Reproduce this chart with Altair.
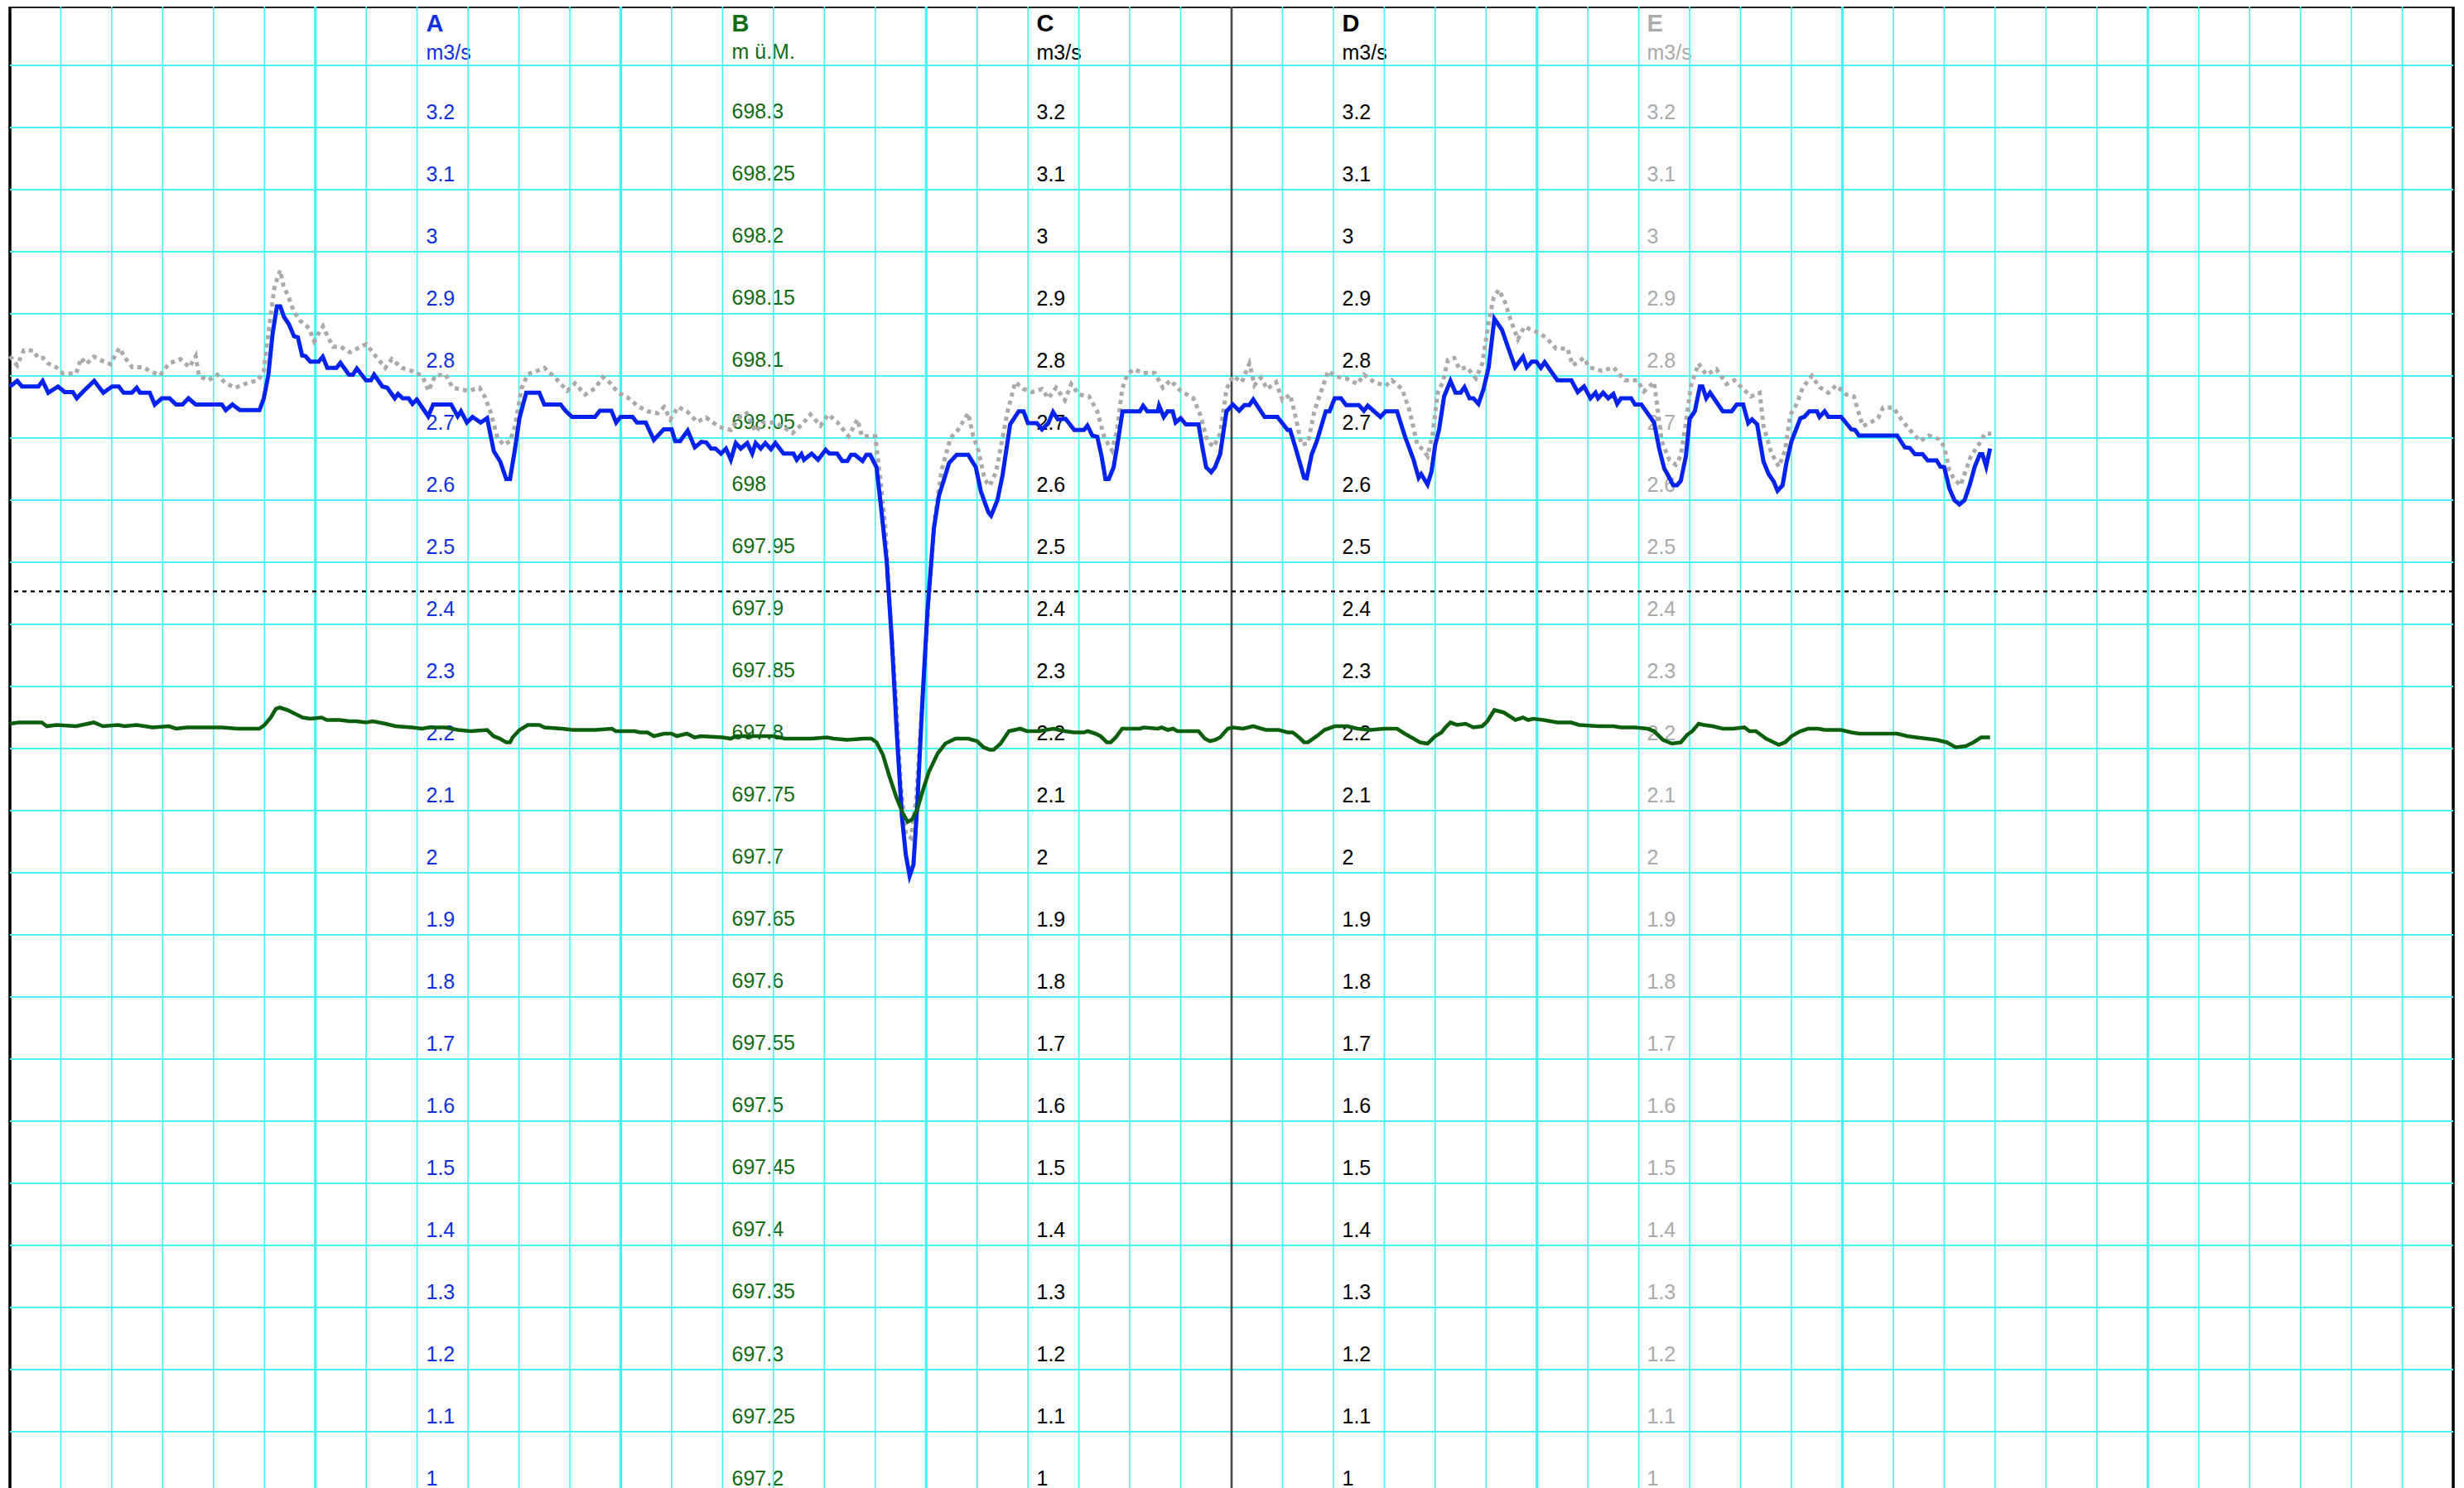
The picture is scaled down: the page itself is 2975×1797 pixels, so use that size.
import altair as alt
import pandas as pd

# ---------------- data (hours since start, value) ----------------
# A: discharge, m3/s (blue)
A_pts = [
    (0.0, 2.783), (0.57, 2.792), (0.95, 2.783), (2.24, 2.783), (2.57, 2.792), (3.01, 2.773), (3.78, 2.783),
    (4.30, 2.774), (4.94, 2.774), (5.25, 2.764), (5.71, 2.774), (6.62, 2.792), (7.34, 2.773), (8.03, 2.783),
    (8.55, 2.783), (8.93, 2.773), (9.58, 2.773), (9.96, 2.781), (10.22, 2.773), (10.99, 2.773), (11.38, 2.754),
    (11.94, 2.764), (12.54, 2.764), (13.05, 2.754), (13.56, 2.754), (14.03, 2.764), (14.59, 2.754), (16.65, 2.754),
    (16.96, 2.745), (17.48, 2.754), (18.07, 2.745), (19.61, 2.745), (19.95, 2.764), (20.31, 2.802), (20.64, 2.868),
    (20.98, 2.912), (21.24, 2.912), (21.54, 2.895), (21.93, 2.883), (22.32, 2.864), (22.63, 2.862), (22.96, 2.833),
    (23.22, 2.832), (23.60, 2.823), (24.25, 2.823), (24.58, 2.831), (24.94, 2.813), (25.66, 2.813), (25.97, 2.821),
    (26.64, 2.802), (26.95, 2.802), (27.26, 2.812), (27.98, 2.793), (28.37, 2.793), (28.62, 2.802), (29.27, 2.783),
    (29.65, 2.781), (30.24, 2.764), (30.50, 2.771), (30.86, 2.764), (31.33, 2.764), (31.63, 2.755), (31.97, 2.762),
    (32.87, 2.735), (33.26, 2.754), (34.67, 2.754), (35.19, 2.735), (35.44, 2.743), (35.91, 2.725), (36.35, 2.734),
    (36.99, 2.725), (37.50, 2.732), (38.02, 2.679), (38.53, 2.662), (39.0, 2.634), (39.3, 2.634), (39.67, 2.68),
    (40.05, 2.733), (40.57, 2.773), (41.6, 2.773), (41.99, 2.754), (43.27, 2.754), (43.66, 2.744), (44.17, 2.734),
    (45.97, 2.734), (46.36, 2.744), (47.26, 2.744), (47.64, 2.725), (47.98, 2.734), (48.93, 2.734), (49.27, 2.725),
    (49.96, 2.725), (50.6, 2.697), (51.38, 2.714), (52.0, 2.714), (52.28, 2.695), (52.66, 2.695), (53.26, 2.712),
    (53.82, 2.685), (54.34, 2.694), (54.72, 2.693), (55.1, 2.683), (55.44, 2.683), (55.88, 2.675), (56.27, 2.683),
    (56.65, 2.665), (57.04, 2.692), (57.43, 2.683), (57.94, 2.692), (58.33, 2.675), (58.6, 2.692), (59.0, 2.683),
    (59.36, 2.692), (59.8, 2.682), (60.15, 2.692), (60.79, 2.675), (61.57, 2.675), (61.83, 2.665), (62.2, 2.674),
    (62.4, 2.665), (63.0, 2.675), (63.5, 2.665), (64.1, 2.681), (64.4, 2.675), (65.0, 2.675), (65.4, 2.663),
    (65.8, 2.663), (66.1, 2.673), (66.4, 2.673), (67.0, 2.663), (67.3, 2.673), (67.6, 2.673), (68.1, 2.653),
    (68.5, 2.580), (68.9, 2.501), (69.3, 2.374), (69.7, 2.222), (70.1, 2.089), (70.4, 2.029), (70.7, 1.995),
    (71.0, 2.013), (71.3, 2.109), (71.7, 2.275), (72.1, 2.421), (72.6, 2.554), (73.0, 2.607), (73.4, 2.633),
    (73.8, 2.66), (74.4, 2.673), (75.3, 2.673), (75.9, 2.653), (76.3, 2.614), (76.9, 2.580), (77.1, 2.575),
    (77.6, 2.60), (78.0, 2.64), (78.6, 2.722), (79.27, 2.743), (79.65, 2.743), (80.0, 2.724), (80.7, 2.724),
    (81.1, 2.714), (81.6, 2.724), (81.97, 2.742), (82.35, 2.730), (82.95, 2.731), (83.64, 2.713), (84.4, 2.713),
    (84.67, 2.720), (85.06, 2.704), (85.45, 2.702), (85.78, 2.671), (86.09, 2.634), (86.35, 2.634), (86.73, 2.653),
    (87.07, 2.695), (87.43, 2.743), (88.79, 2.743), (89.05, 2.752), (89.38, 2.743), (90.2, 2.743), (90.3, 2.752),
    (90.67, 2.734), (90.97, 2.743), (91.37, 2.743), (91.6, 2.725), (92.0, 2.732), (92.4, 2.722), (93.4, 2.722),
    (93.7, 2.686), (94.0, 2.653), (94.4, 2.645), (94.7, 2.653), (95.1, 2.674), (95.6, 2.743), (96.1, 2.754),
    (96.6, 2.744), (97.0, 2.753), (97.4, 2.753), (97.7, 2.762), (98.6, 2.734), (99.6, 2.734), (100.4, 2.713),
    (100.6, 2.713), (101.0, 2.686), (101.7, 2.636), (101.9, 2.635), (102.3, 2.674), (102.7, 2.695), (103.4, 2.743),
    (103.7, 2.743), (104.1, 2.764), (104.6, 2.764), (105.0, 2.753), (106.0, 2.753), (106.4, 2.744), (106.7, 2.752),
    (107.2, 2.743), (107.7, 2.734), (108.1, 2.743), (109.0, 2.743), (109.6, 2.704), (110.3, 2.665), (110.7, 2.636),
    (110.9, 2.642), (111.4, 2.625), (111.7, 2.645), (112.0, 2.689), (112.3, 2.713), (112.7, 2.767), (113.2, 2.792),
    (113.6, 2.773), (114.0, 2.773), (114.3, 2.782), (114.7, 2.764), (115.0, 2.764), (115.4, 2.755), (115.8, 2.779),
    (116.2, 2.814), (116.65, 2.892), (117.25, 2.874), (117.76, 2.844), (118.28, 2.814), (118.9, 2.831), (119.2, 2.814),
    (119.6, 2.823), (119.95, 2.823), (120.3, 2.813), (120.6, 2.822), (121.6, 2.793), (122.7, 2.793), (123.2, 2.774),
    (123.7, 2.783), (124.2, 2.764), (124.6, 2.773), (124.8, 2.764), (125.2, 2.773), (125.6, 2.764), (126.0, 2.771),
    (126.3, 2.755), (126.6, 2.764), (127.4, 2.764), (127.7, 2.754), (128.2, 2.754), (129.2, 2.725), (129.6, 2.683),
    (130.0, 2.651), (130.3, 2.640), (130.7, 2.624), (131.0, 2.624), (131.3, 2.631), (131.7, 2.671), (132.0, 2.731),
    (132.4, 2.743), (132.8, 2.783), (133.0, 2.783), (133.3, 2.764), (133.6, 2.773), (134.6, 2.743), (135.3, 2.743),
    (135.7, 2.754), (136.2, 2.754), (136.6, 2.724), (136.9, 2.730), (137.3, 2.722), (137.8, 2.662), (138.2, 2.642),
    (138.6, 2.630), (138.9, 2.615), (139.3, 2.624), (139.6, 2.660), (140.0, 2.695), (140.7, 2.732), (141.0, 2.734),
    (141.4, 2.743), (142.0, 2.743), (142.2, 2.734), (142.6, 2.743), (142.9, 2.734), (143.9, 2.734), (144.7, 2.714),
    (145.0, 2.713), (145.3, 2.704), (148.3, 2.704), (148.9, 2.685), (149.3, 2.684), (149.7, 2.674), (150.3, 2.674),
    (150.7, 2.664), (151.4, 2.664), (151.7, 2.654), (152.0, 2.653), (152.4, 2.619), (152.8, 2.60), (153.2, 2.593),
    (153.6, 2.60), (154.0, 2.624), (154.4, 2.654), (154.8, 2.674), (155.0, 2.674), (155.3, 2.654), (155.6, 2.683),
]

# E: discharge, m3/s (grey dotted)
E_pts = [
    (0.0, 2.832), (0.57, 2.817), (1.08, 2.841), (1.85, 2.841), (2.2, 2.829), (2.6, 2.829), (3.0, 2.820),
    (3.65, 2.814), (4.17, 2.804), (5.2, 2.804), (5.6, 2.829), (6.0, 2.819), (6.6, 2.831), (7.4, 2.823),
    (7.9, 2.819), (8.6, 2.845), (9.05, 2.829), (9.6, 2.814), (10.5, 2.814), (11.0, 2.808), (11.8, 2.801),
    (12.5, 2.82), (13.4, 2.827), (14.1, 2.814), (14.6, 2.832), (14.85, 2.80), (15.6, 2.793), (16.3, 2.802),
    (16.9, 2.789), (17.7, 2.781), (18.7, 2.789), (19.5, 2.793), (19.95, 2.808), (20.3, 2.868), (20.8, 2.945),
    (21.24, 2.970), (21.5, 2.945), (21.9, 2.927), (22.3, 2.904), (22.8, 2.889), (23.5, 2.877), (23.9, 2.856),
    (24.6, 2.88), (25.0, 2.862), (25.4, 2.847), (26.0, 2.847), (26.7, 2.838), (27.2, 2.843), (28.0, 2.851),
    (28.5, 2.838), (29.5, 2.813), (30.0, 2.827), (30.8, 2.813), (31.6, 2.808), (32.4, 2.80), (32.9, 2.776),
    (33.4, 2.80), (34.2, 2.803), (34.8, 2.781), (36.0, 2.776), (36.9, 2.781), (37.3, 2.767), (37.8, 2.74),
    (38.3, 2.701), (38.8, 2.689), (39.3, 2.695), (39.7, 2.72), (40.2, 2.78), (40.7, 2.803), (41.3, 2.807),
    (42.0, 2.813), (42.75, 2.799), (43.8, 2.776), (44.4, 2.788), (45.2, 2.77), (45.97, 2.78), (46.6, 2.798),
    (47.1, 2.79), (47.8, 2.773), (48.5, 2.766), (49.3, 2.752), (50.1, 2.743), (50.9, 2.74), (51.4, 2.75),
    (51.9, 2.73), (52.5, 2.75), (53.2, 2.743), (54.0, 2.726), (54.7, 2.733), (55.75, 2.718), (56.65, 2.713),
    (57.3, 2.733), (57.9, 2.74), (58.6, 2.71), (59.2, 2.725), (60.1, 2.725), (60.9, 2.716), (61.5, 2.708),
    (62.3, 2.723), (62.9, 2.738), (63.7, 2.72), (64.3, 2.738), (65.0, 2.726), (65.9, 2.703), (66.6, 2.73),
    (66.95, 2.703), (68.0, 2.703), (68.4, 2.633), (68.8, 2.554), (69.1, 2.441), (69.65, 2.275), (70.0, 2.142),
    (70.4, 2.062), (70.8, 2.056), (71.2, 2.116), (71.7, 2.275), (72.2, 2.441), (72.7, 2.574), (73.2, 2.647),
    (73.9, 2.70), (74.5, 2.713), (75.3, 2.74), (75.7, 2.703), (76.1, 2.68), (76.6, 2.633), (77.0, 2.623),
    (77.5, 2.646), (78.0, 2.70), (78.4, 2.743), (79.0, 2.79), (79.65, 2.779), (80.3, 2.774), (81.1, 2.779),
    (81.6, 2.764), (82.2, 2.781), (82.9, 2.761), (83.4, 2.787), (84.0, 2.77), (84.8, 2.767), (85.45, 2.743),
    (86.0, 2.701), (86.6, 2.68), (87.0, 2.713), (87.4, 2.779), (87.8, 2.802), (88.3, 2.811), (89.0, 2.805),
    (89.95, 2.805), (90.6, 2.781), (91.2, 2.793), (92.0, 2.776), (93.0, 2.764), (93.55, 2.737), (94.1, 2.695),
    (94.6, 2.686), (95.1, 2.707), (95.6, 2.779), (96.1, 2.80), (96.8, 2.79), (97.4, 2.82), (97.8, 2.785),
    (98.3, 2.797), (98.8, 2.779), (99.5, 2.79), (100.0, 2.761), (100.6, 2.77), (101.0, 2.737), (101.5, 2.689),
    (102.0, 2.692), (102.5, 2.743), (103.1, 2.779), (103.6, 2.808), (104.2, 2.799), (105.0, 2.796), (105.9, 2.787),
    (106.4, 2.802), (107.2, 2.79), (108.1, 2.784), (108.6, 2.793), (109.4, 2.779), (110.0, 2.743), (110.6, 2.689),
    (111.1, 2.68), (111.4, 2.671), (111.8, 2.707), (112.2, 2.773), (112.6, 2.79), (113.0, 2.826), (113.5, 2.829),
    (113.9, 2.811), (114.5, 2.814), (115.2, 2.796), (115.7, 2.82), (116.2, 2.886), (116.6, 2.927), (117.0, 2.939),
    (117.5, 2.918), (118.0, 2.886), (118.5, 2.859), (119.0, 2.879), (119.95, 2.871), (120.7, 2.862), (121.5, 2.844),
    (122.4, 2.844), (122.8, 2.817), (123.7, 2.829), (124.1, 2.814), (125.1, 2.808), (126.0, 2.814), (126.9, 2.793),
    (127.9, 2.793), (128.4, 2.775), (129.2, 2.79), (129.5, 2.743), (129.8, 2.695), (130.4, 2.665), (130.9, 2.657),
    (131.3, 2.671), (131.7, 2.725), (132.1, 2.785), (132.7, 2.82), (133.3, 2.802), (134.1, 2.811), (134.9, 2.787),
    (135.5, 2.793), (136.2, 2.779), (136.8, 2.767), (137.5, 2.773), (137.8, 2.719), (138.4, 2.677), (139.0, 2.654),
    (139.5, 2.68), (139.9, 2.737), (140.4, 2.755), (140.9, 2.782), (141.6, 2.80), (142.2, 2.782), (142.9, 2.773),
    (143.5, 2.785), (144.3, 2.77), (144.9, 2.767), (145.6, 2.719), (146.2, 2.725), (146.8, 2.732), (147.2, 2.749),
    (148.0, 2.749), (148.6, 2.731), (149.3, 2.713), (150.1, 2.695), (150.8, 2.704), (151.6, 2.698), (152.0, 2.686),
    (152.4, 2.648), (152.8, 2.633), (153.3, 2.624), (153.7, 2.648), (154.1, 2.671), (154.7, 2.689), (155.2, 2.707),
    (155.7, 2.707),
]

# B: water level, m ü.M. (green)
B_pts = [
    (0.0, 697.820), (0.7, 697.821), (2.5, 697.821), (2.9, 697.818), (3.65, 697.819), (5.2, 697.818),
    (6.6, 697.821), (7.3, 697.818), (8.5, 697.819), (9.0, 697.818), (9.96, 697.819), (11.2, 697.817),
    (12.5, 697.818), (13.05, 697.816), (13.9, 697.817), (14.6, 697.817), (16.65, 697.817), (17.9, 697.816),
    (19.6, 697.816), (20.0, 697.819), (20.5, 697.825), (20.9, 697.832), (21.2, 697.833), (21.8, 697.831),
    (22.4, 697.828), (23.0, 697.825), (23.6, 697.824), (24.5, 697.825), (24.9, 697.823), (25.9, 697.823),
    (26.7, 697.822), (27.2, 697.822), (28.0, 697.821), (28.5, 697.822), (29.5, 697.820), (30.3, 697.818),
    (31.6, 697.817), (32.4, 697.816), (32.9, 697.817), (34.2, 697.817), (35.2, 697.815), (36.2, 697.814),
    (37.5, 697.815), (38.0, 697.810), (38.5, 697.808), (39.0, 697.805), (39.3, 697.805), (39.5, 697.809),
    (40.05, 697.815), (40.7, 697.819), (41.6, 697.819), (42.0, 697.817), (43.4, 697.816), (44.2, 697.815),
    (46.0, 697.815), (47.3, 697.816), (47.6, 697.814), (49.1, 697.814), (49.5, 697.813), (50.1, 697.813),
    (50.6, 697.810), (51.4, 697.812), (52.0, 697.812), (52.4, 697.810), (53.2, 697.812), (53.8, 697.809),
    (54.3, 697.810), (56.0, 697.809), (56.65, 697.808), (57.04, 697.810), (57.9, 697.810), (58.8, 697.810),
    (60.0, 697.810), (60.9, 697.808), (61.9, 697.808), (63.0, 697.808), (64.2, 697.809), (64.7, 697.808),
    (65.8, 697.807), (67.1, 697.808), (67.7, 697.808), (68.1, 697.805), (68.6, 697.795), (69.1, 697.778),
    (69.65, 697.761), (70.2, 697.747), (70.55, 697.741), (70.9, 697.743), (71.3, 697.751), (71.7, 697.765),
    (72.2, 697.781), (72.9, 697.796), (73.5, 697.804), (74.3, 697.808), (75.3, 697.808), (76.0, 697.806),
    (76.5, 697.801), (77.0, 697.799), (77.3, 697.799), (77.85, 697.804), (78.5, 697.814), (79.4, 697.816),
    (79.9, 697.814), (80.9, 697.814), (82.0, 697.816), (82.9, 697.814), (83.6, 697.813), (84.4, 697.813),
    (84.7, 697.814), (85.3, 697.812), (85.7, 697.810), (86.2, 697.805), (86.5, 697.805), (86.9, 697.809),
    (87.4, 697.816), (88.8, 697.816), (89.1, 697.817), (90.2, 697.816), (90.5, 697.817), (91.0, 697.815),
    (91.4, 697.816), (91.75, 697.814), (93.4, 697.814), (93.9, 697.808), (94.3, 697.806), (94.7, 697.807),
    (95.1, 697.809), (95.7, 697.816), (96.1, 697.817), (96.9, 697.816), (97.7, 697.818), (98.7, 697.815),
    (99.7, 697.815), (100.4, 697.813), (100.8, 697.813), (101.3, 697.809), (101.7, 697.805), (102.0, 697.805),
    (102.7, 697.810), (103.3, 697.815), (104.1, 697.818), (105.1, 697.818), (105.9, 697.816), (106.9, 697.815),
    (108.0, 697.816), (109.0, 697.816), (109.6, 697.812), (110.3, 697.808), (110.8, 697.805), (111.4, 697.804),
    (112.0, 697.810), (112.5, 697.813), (112.8, 697.817), (113.2, 697.821), (113.7, 697.819), (114.4, 697.820),
    (115.0, 697.817), (115.7, 697.818), (116.1, 697.822), (116.65, 697.831), (117.4, 697.829), (118.3, 697.823),
    (118.9, 697.825), (119.3, 697.823), (119.7, 697.824), (120.5, 697.823), (121.6, 697.821), (122.7, 697.821),
    (123.3, 697.819), (124.8, 697.818), (126.0, 697.818), (126.6, 697.817), (127.7, 697.817), (128.7, 697.816),
    (129.2, 697.814), (129.9, 697.807), (130.6, 697.804), (131.3, 697.805), (131.8, 697.811), (132.2, 697.814),
    (132.7, 697.820), (133.1, 697.819), (133.8, 697.818), (134.6, 697.816), (135.4, 697.816), (136.3, 697.817),
    (136.7, 697.814), (137.2, 697.814), (138.0, 697.808), (138.6, 697.805), (139.0, 697.803), (139.5, 697.805),
    (140.0, 697.810), (140.7, 697.814), (141.3, 697.816), (142.1, 697.816), (142.6, 697.815), (143.9, 697.815),
    (144.7, 697.813), (145.3, 697.812), (148.3, 697.812), (149.1, 697.810), (149.8, 697.809), (150.6, 697.808),
    (151.4, 697.807), (152.2, 697.805), (152.9, 697.801), (153.7, 697.802), (154.3, 697.805), (154.9, 697.809),
    (155.3, 697.809), (155.6, 697.809),
]

# axis tick labels (last slot is used for the unit line)
ticks_q = [1.0, 1.1, 1.2, 1.3, 1.4, 1.5, 1.6, 1.7, 1.8, 1.9, 2.0, 2.1, 2.2, 2.3, 2.4, 2.5,
           2.6, 2.7, 2.8, 2.9, 3.0, 3.1, 3.2, 3.3]
ticks_b = [697.2, 697.25, 697.3, 697.35, 697.4, 697.45, 697.5, 697.55, 697.6, 697.65, 697.7,
           697.75, 697.8, 697.85, 697.9, 697.95, 698.0, 698.05, 698.1, 698.15, 698.2, 698.25,
           698.3, 698.35]
hgrid = [1.1, 1.2, 1.3, 1.4, 1.5, 1.6, 1.7, 1.8, 1.9, 2.0, 2.1, 2.2, 2.3, 2.4, 2.5, 2.6,
         2.7, 2.8, 2.9, 3.0, 3.1, 3.2, 3.3]
vgrid_minor = [4, 8, 12, 16, 20, 28, 32, 36, 40, 44, 52, 56, 60, 64, 68, 76, 80, 84, 88, 92,
               100, 104, 108, 112, 116, 124, 128, 132, 136, 140, 148, 152, 156, 160, 164,
               172, 176, 180, 184, 188]
vgrid_major = [24, 48, 72, 120, 144, 168]
now_mark = [96]
threshold = [2.453]

# ---------------- styling ----------------
FONT = "Liberation Sans"
CYAN = "#48f2f2"
BLUE_LINE = "#0022f0"
BLUE_TXT = "#1030e0"
GREEN_LINE = "#0b5e0b"
GREEN_TXT = "#136b13"
GREY = "#aaaaaa"

W, H = 2950, 1796
xscale = alt.Scale(domain=[0, 192], nice=False, zero=False)
yq = alt.Scale(domain=[1.0, 3.39467], nice=False, zero=False)
yb = alt.Scale(domain=[697.2, 698.397333], nice=False, zero=False)


def make_axis(pos, title, unit, color, values, fmt, unit_test):
    return alt.Axis(
        orient="left", offset=-pos, values=values,
        labelExpr=f"{unit_test} ? '{unit}' : format(datum.value, '{fmt}')",
        labelAlign="left", labelBaseline="alphabetic",
        labelOffset={"condition": {"test": unit_test, "value": -8}, "value": -11},
        labelPadding=0, ticks=False, tickSize=0, domain=False, grid=False,
        labelColor=color, labelFont=FONT, labelFontSize=25, labelOverlap=False,
        labelFlush=False, labelBound=False,
        title=title, titleColor=color, titleFont=FONT, titleFontSize=29,
        titleFontWeight="bold", titleAngle=0, titleAlign="left",
        titleBaseline="alphabetic", titleX=0, titleY=29.5, titlePadding=0,
    )


dfA = pd.DataFrame(A_pts, columns=["t", "v"])
dfE = pd.DataFrame(E_pts, columns=["t", "v"])
dfB = pd.DataFrame(B_pts, columns=["t", "v"])

X = alt.X("t:Q", scale=xscale, axis=None)

hg = alt.Chart(pd.DataFrame({"v": hgrid})).mark_rule(color=CYAN, strokeWidth=2.2).encode(
    y=alt.Y("v:Q", scale=yq, axis=None))
vmin = alt.Chart(pd.DataFrame({"t": vgrid_minor})).mark_rule(color=CYAN, strokeWidth=1.6).encode(x=X)
vmaj = alt.Chart(pd.DataFrame({"t": vgrid_major})).mark_rule(color=CYAN, strokeWidth=3.2).encode(x=X)
nowl = alt.Chart(pd.DataFrame({"t": now_mark})).mark_rule(color="#444444", strokeWidth=2.6).encode(x=X)

thr_c = alt.Chart(pd.DataFrame({"v": threshold})).mark_rule(
    color="black", strokeWidth=2, strokeDash=[5, 5]).encode(
    y=alt.Y("v:Q", scale=yq, axis=make_axis(1239, "C", "m3/s", "black", ticks_q, ".1~f", "datum.value > 3.25")))
thr_d = alt.Chart(pd.DataFrame({"v": threshold})).mark_rule(
    color="black", strokeWidth=2, strokeDash=[5, 5]).encode(
    y=alt.Y("v:Q", scale=yq, axis=make_axis(1608, "D", "m3/s", "black", ticks_q, ".1~f", "datum.value > 3.25")))

lineE = alt.Chart(dfE).mark_line(color=GREY, strokeWidth=5, strokeDash=[5, 5]).encode(
    x=X, y=alt.Y("v:Q", scale=yq, axis=make_axis(1976, "E", "m3/s", GREY, ticks_q, ".1~f", "datum.value > 3.25")))
lineA = alt.Chart(dfA).mark_line(color=BLUE_LINE, strokeWidth=5).encode(
    x=X, y=alt.Y("v:Q", scale=yq, axis=make_axis(502, "A", "m3/s", BLUE_TXT, ticks_q, ".1~f", "datum.value > 3.25")))
lineB = alt.Chart(dfB).mark_line(color=GREEN_LINE, strokeWidth=4.6).encode(
    x=X, y=alt.Y("v:Q", scale=yb, axis=make_axis(871, "B", "m ü.M.", GREEN_TXT, ticks_b, ".2~f", "datum.value > 698.32")))

chart = alt.layer(hg, vmin, vmaj, nowl, thr_c, thr_d, lineE, lineA, lineB).resolve_scale(
    y="independent").properties(
    width=W, height=H,
    padding={"left": 4, "top": 0, "right": 4, "bottom": 0},
    autosize=alt.AutoSizeParams(type="none"),
    background="white",
).configure_view(stroke="black", strokeWidth=3.5)

chart.save("out.html", embed_options={"renderer": "svg", "actions": False})
